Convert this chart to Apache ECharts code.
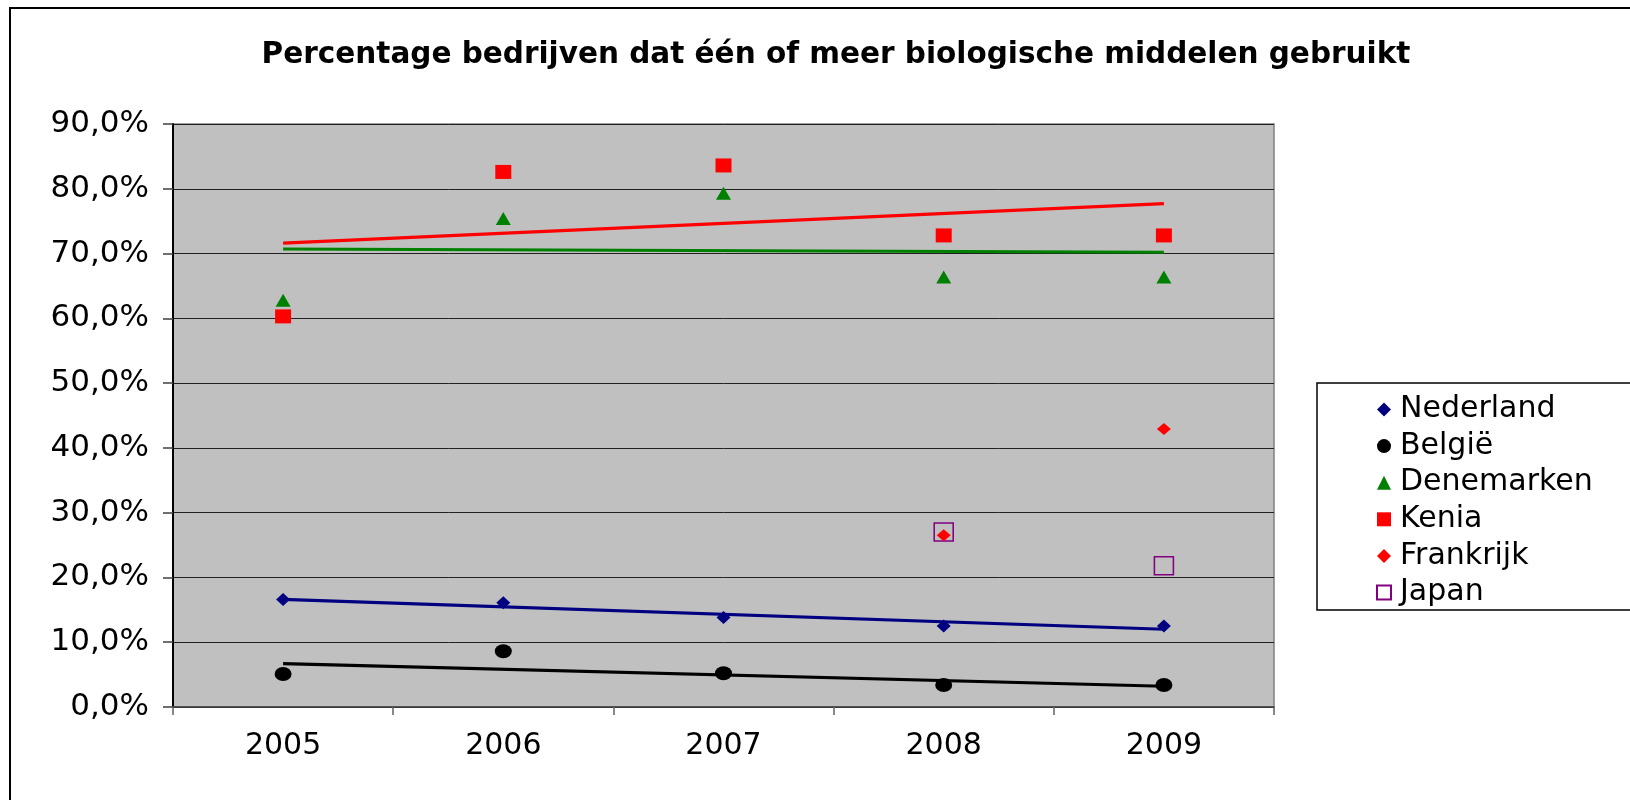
<!DOCTYPE html>
<html lang="nl">
<head>
<meta charset="utf-8">
<title>Percentage bedrijven dat één of meer biologische middelen gebruikt</title>
<script src="https://cdn.jsdelivr.net/npm/echarts@6/dist/echarts.min.js"></script>
<style>
  html, body { margin: 0; padding: 0; background: #fff; }
  #container { width: 1630px; height: 800px; }
</style>
</head>
<body>
<div id="container"></div>
<script>
// categorieen en waarden (procenten)
var years = ['2005', '2006', '2007', '2008', '2009'];
var yTicks = [0, 10, 20, 30, 40, 50, 60, 70, 80, 90];

var nederland  = [16.6, 16.1, 13.8, 12.5, 12.5];
var belgie     = [5.1, 8.6, 5.2, 3.4, 3.4];
var denemarken = [62.8, 75.4, 79.3, 66.4, 66.4];
var kenia      = [60.3, 82.6, 83.6, 72.8, 72.8];
var frankrijk  = [null, null, null, 26.5, 42.9];
var japan      = [null, null, null, 27.0, 21.8];

// trendlijnen: begin (2005) en eind (2009)
var nederlandTrend  = [16.6, 12.0];
var belgieTrend     = [6.7, 3.2];
var denemarkenTrend = [70.7, 70.2];
var keniaTrend      = [71.6, 77.7];

function pts(vals) {
  var out = [];
  for (var i = 0; i < vals.length; i++) {
    if (vals[i] !== null) out.push([years[i], vals[i]]);
  }
  return out;
}
function trend(t) {
  return [[years[0], t[0]], [years[years.length - 1], t[1]]];
}
function trendSeries(t, color) {
  return {
    type: 'line', data: trend(t), symbol: 'none', silent: true, z: 2,
    lineStyle: { color: color, width: 3.2 }
  };
}

var FONT = 'DejaVu Sans';
var chart = echarts.init(document.getElementById('container'));

var option = {
  animation: false,
  backgroundColor: '#fff',
  title: {
    text: 'Percentage bedrijven dat één of meer biologische middelen gebruikt',
    left: 831, top: 35, textAlign: 'center',
    textStyle: { fontFamily: FONT, fontWeight: 'bold', fontSize: 29.5, color: '#000' }
  },
  graphic: [
    { type: 'rect', z: 0, shape: { x: 10, y: 8, width: 1700, height: 900 },
      style: { fill: 'none', stroke: '#000', lineWidth: 2 } },
    { type: 'rect', z: 0, shape: { x: 1317, y: 383, width: 400, height: 227 },
      style: { fill: '#fff', stroke: '#000', lineWidth: 1.5 } }
  ],
  grid: {
    left: 173, right: 356, top: 124, bottom: 93,
    show: true, backgroundColor: '#C0C0C0', borderColor: '#808080', borderWidth: 1.5
  },
  legend: {
    orient: 'vertical', left: 1371, top: 389,
    itemWidth: 14, itemHeight: 14, itemGap: 5.6,
    data: ['Nederland', 'België', 'Denemarken', 'Kenia', 'Frankrijk', 'Japan'],
    textStyle: { fontFamily: FONT, fontSize: 30, lineHeight: 31, color: '#000', padding: [0, 0, 0, 4] }
  },
  xAxis: {
    type: 'category', data: years, boundaryGap: true,
    axisLine: { lineStyle: { color: '#404040', width: 1.5 } },
    axisTick: { show: true, length: 8, lineStyle: { color: '#606060', width: 1.5 } },
    axisLabel: { fontFamily: FONT, fontSize: 30, color: '#000', margin: 24 },
    splitLine: { show: false }
  },
  yAxis: {
    type: 'value', min: yTicks[0], max: yTicks[yTicks.length - 1], interval: 10,
    axisLine: { show: true, lineStyle: { color: '#000', width: 2 } },
    axisTick: { show: true, length: 10, lineStyle: { color: '#404040', width: 1.5 } },
    axisLabel: {
      fontFamily: FONT, fontSize: 31, color: '#000', margin: 24,
      formatter: function (v) { return v.toFixed(1).replace('.', ',') + '%'; }
    },
    splitLine: { show: true, lineStyle: { color: '#202020', width: 1 } }
  },
  series: [
    trendSeries(nederlandTrend, '#000080'),
    trendSeries(belgieTrend, '#000000'),
    trendSeries(denemarkenTrend, '#008000'),
    trendSeries(keniaTrend, '#FF0000'),
    { name: 'Nederland', type: 'scatter', data: pts(nederland), z: 5,
      symbol: 'diamond', symbolSize: [14, 13], itemStyle: { color: '#000080', opacity: 1 } },
    { name: 'België', type: 'scatter', data: pts(belgie), z: 5,
      symbol: 'circle', symbolSize: [17, 14], itemStyle: { color: '#000000', opacity: 1 } },
    { name: 'Denemarken', type: 'scatter', data: pts(denemarken), z: 5,
      symbol: 'triangle', symbolSize: [15, 13], itemStyle: { color: '#008000', opacity: 1 } },
    { name: 'Kenia', type: 'scatter', data: pts(kenia), z: 5,
      symbol: 'rect', symbolSize: [16, 14], itemStyle: { color: '#FF0000', opacity: 1 } },
    { name: 'Japan', type: 'scatter', data: pts(japan), z: 5,
      symbol: 'rect', symbolSize: [19, 18],
      itemStyle: { color: 'rgba(0,0,0,0)', borderColor: '#800080', borderWidth: 1.5, opacity: 1 } },
    { name: 'Frankrijk', type: 'scatter', data: pts(frankrijk), z: 6,
      symbol: 'diamond', symbolSize: [14, 12], itemStyle: { color: '#FF0000', opacity: 1 } }
  ]
};
chart.setOption(option);
</script>
</body>
</html>
